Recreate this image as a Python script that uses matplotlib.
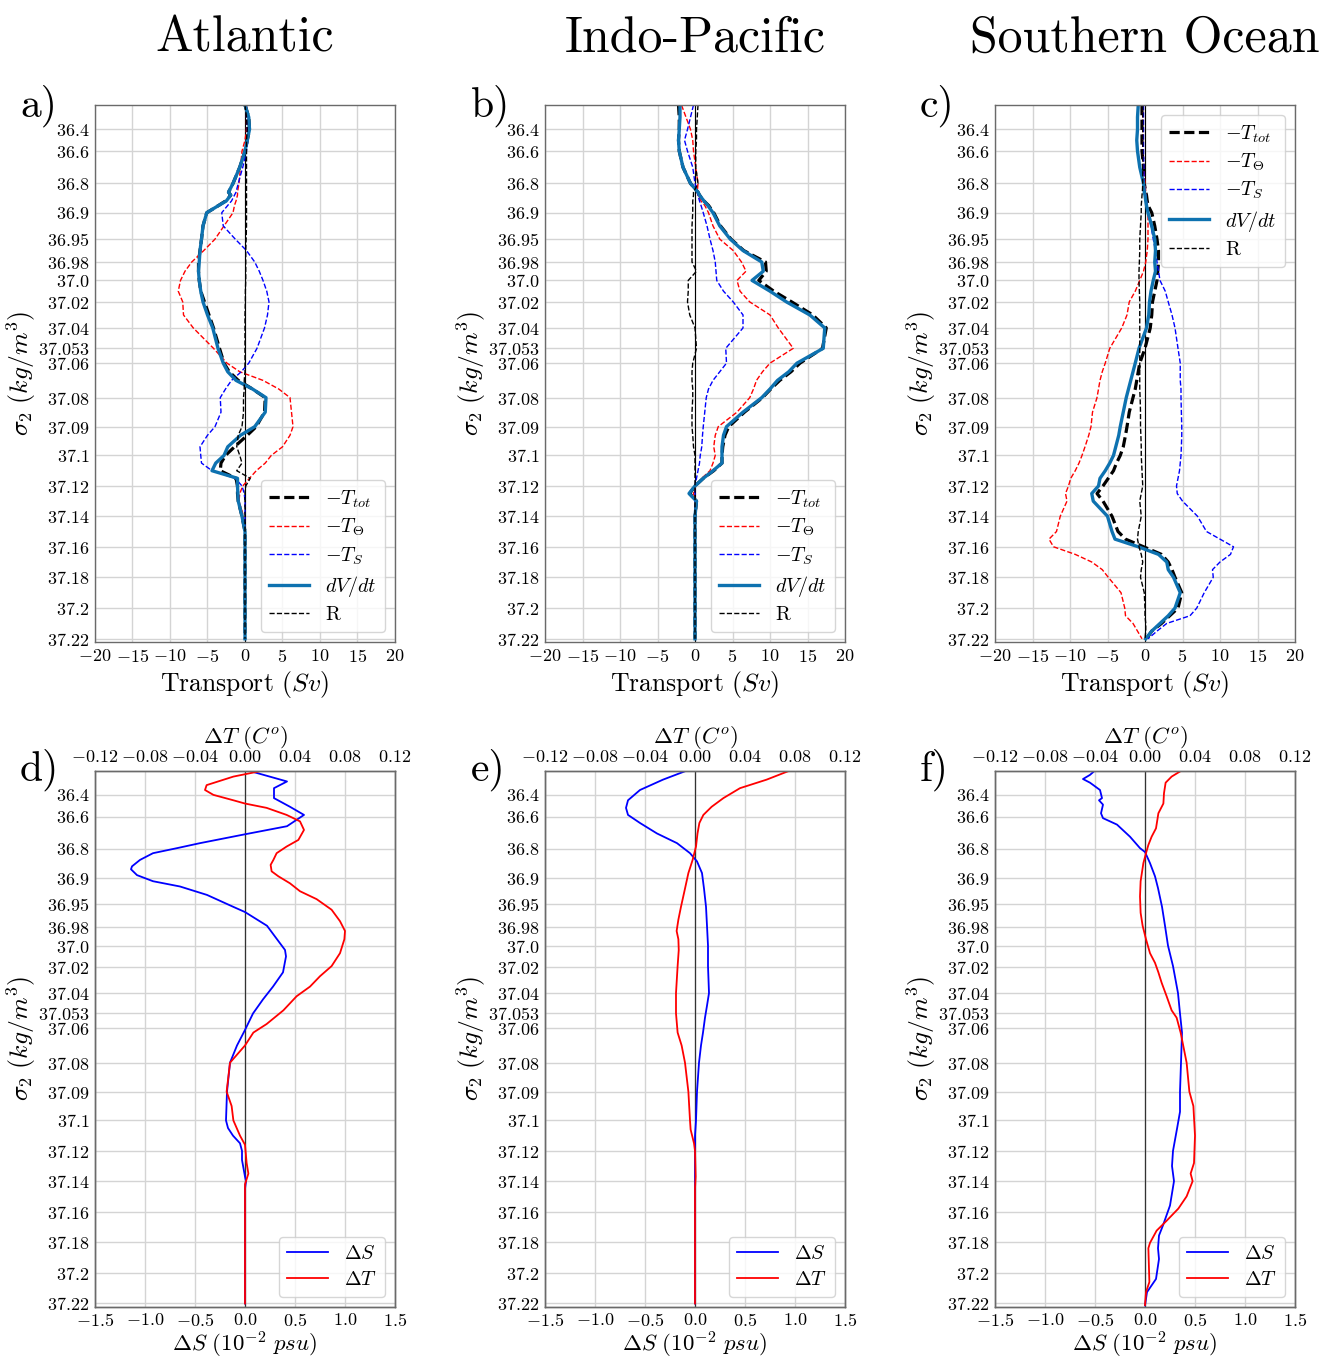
import numpy as np
import matplotlib
matplotlib.use("Agg")
import matplotlib.pyplot as plt
from matplotlib.ticker import FixedLocator, FuncFormatter

plt.rcParams.update({
    "font.family": "serif",
    "font.serif": ["cmr10"],
    "mathtext.fontset": "cm",
    "axes.formatter.use_mathtext": True,
    "axes.unicode_minus": False,
})

# ---------------- data ----------------
TITLES = ["Atlantic", "Indo-Pacific", "Southern Ocean"]
PANEL_TOP = ["a)", "b)", "c)"]
PANEL_BOT = ["d)", "e)", "f)"]

Y_TICK_LABELS = ["36.4", "36.6", "36.8", "36.9", "36.95", "36.98", "37.0", "37.02",
                 "37.04", "37.053", "37.06", "37.08", "37.09", "37.1", "37.12",
                 "37.14", "37.16", "37.18", "37.2", "37.22"]
TRANSPORT_TICKS = [-20, -15, -10, -5, 0, 5, 10, 15, 20]
DS_TICKS = [-1.5, -1.0, -0.5, 0.0, 0.5, 1.0, 1.5]
DT_TICKS = [-0.12, -0.08, -0.04, 0.0, 0.04, 0.08, 0.12]

# common density grid of the transport profiles
SIG = [36.2, 36.3, 36.4, 36.5, 36.6, 36.7, 36.8, 36.83, 36.84, 36.86,
       36.875, 36.9, 36.925, 36.95, 36.965, 36.98, 36.99, 37.0, 37.01, 37.02,
       37.03, 37.04, 37.053, 37.06, 37.065, 37.07, 37.075, 37.08, 37.085, 37.09,
       37.093, 37.097, 37.1, 37.105, 37.11, 37.115, 37.12, 37.125, 37.13, 37.14,
       37.15, 37.155, 37.16, 37.165, 37.17, 37.175, 37.18, 37.19, 37.2, 37.205,
       37.21, 37.215, 37.22]

Z13 = [0.0] * 13

# Atlantic
A_TTOT = [0.0, 0.5, 0.6, 0.3, 0.0, -0.7, -1.6, -2.2, -1.9, -2.6,
          -3.5, -5.1, -5.6, -5.8, -6.0, -6.2, -6.2, -6.1, -5.9, -5.4,
          -4.8, -4.2, -3.4, -2.8, -2.1, -0.9, 1.0, 2.7, 2.6, 1.5,
          0.3, -1.4, -2.6, -3.2, -3.3, -1.2, -1.0, -1.0, -0.9, -0.4] + Z13
A_TTH = [0.2, 0.2, 0.2, 0.0, -0.4, -0.6, -0.8, -1.0, -1.0, -1.2,
         -1.4, -1.6, -2.8, -4.0, -5.5, -7.1, -8.0, -8.6, -8.9, -8.3,
         -8.2, -6.9, -4.2, -2.4, -0.7, 2.4, 4.5, 6.0, 6.2, 6.4,
         6.0, 5.0, 3.5, 2.7, 1.5, 0.6, -0.3, -0.7, -0.8, -0.2] + Z13
A_TS = [0.2, 0.2, 0.3, 0.4, 0.2, -0.3, -0.9, -1.2, -1.4, -1.8,
        -2.3, -3.1, -2.9, -1.3, 0.2, 1.3, 1.9, 2.4, 2.9, 3.2,
        3.0, 2.6, 1.6, 0.5, -0.5, -1.8, -2.6, -3.3, -3.2, -4.0,
        -5.0, -6.0, -5.9, -5.8, -4.4, -1.3, -0.4, -0.1, 0.0, 0.0] + Z13
A_DVDT = [0.0, 0.5, 0.6, 0.3, 0.0, -0.7, -1.6, -2.2, -1.9, -2.5,
          -3.5, -5.1, -5.6, -5.8, -6.0, -6.1, -6.2, -6.1, -5.9, -5.6,
          -5.0, -4.3, -3.6, -2.9, -2.3, -1.2, 1.0, 2.8, 2.7, 1.3,
          -0.6, -2.3, -2.8, -3.9, -4.4, -1.0, -1.0, -0.95, -0.9, -0.4] + Z13
A_R = [0.0, 0.2, 0.3, 0.2, 0.2, 0.2, 0.2, 0.2, 0.2, 0.2,
       0.2, 0.2, 0.2, 0.15, 0.1, 0.1, 0.1, 0.1, 0.05, 0.05,
       0.0, 0.0, 0.0, 0.0, 0.0, -0.1, -0.1, -0.2, -0.2, -0.4,
       -0.9, -1.1, -0.7, -0.4, -1.1, 0.7, 0.1, 0.0, 0.0, 0.0] + Z13

# Indo-Pacific
B_TTOT = [-2.2, -2.1, -2.1, -2.2, -2.1, -1.6, -0.6, 0.4, 0.6, 1.2,
          1.8, 2.5, 3.4, 4.8, 6.5, 9.4, 9.5, 8.5, 10.5, 12.9,
          15.7, 17.5, 17.0, 14.0, 12.8, 11.3, 10.1, 9.0, 6.6, 4.5,
          4.0, 3.7, 3.6, 3.6, 2.5, 1.1, 0.0, -0.7, 0.2, 0.0] + Z13
B_TTH = [-1.8, -1.2, -0.6, -0.3, -0.2, 0.1, 0.4, 0.3, 0.4, 0.8,
         1.3, 1.8, 2.4, 3.3, 5.1, 6.2, 6.8, 5.6, 6.0, 7.3,
         10.0, 11.1, 13.1, 10.0, 9.0, 8.2, 7.8, 7.3, 5.6, 3.1,
         2.7, 2.5, 2.7, 2.4, 2.0, 0.9, 0.1, -0.2, 0.1, 0.0] + Z13
B_TS = [-0.2, -0.6, -1.0, -1.4, -1.0, -0.3, 0.0, 0.3, 0.4, 0.6,
        0.8, 1.1, 1.6, 2.0, 2.4, 2.7, 2.8, 2.9, 3.8, 5.1,
        6.4, 6.4, 4.1, 4.2, 3.3, 2.4, 1.8, 1.5, 1.3, 1.1,
        1.0, 0.9, 0.7, 0.6, 0.4, 0.2, 0.0, 0.0, 0.0, 0.0] + Z13
B_DVDT = [-2.0, -2.0, -2.1, -2.2, -2.1, -1.6, -0.6, 0.4, 0.6, 1.2,
          1.7, 2.4, 3.3, 4.7, 6.4, 8.9, 9.1, 7.6, 10.0, 12.2,
          15.3, 17.3, 17.1, 13.6, 12.5, 11.0, 10.0, 8.9, 6.4, 4.2,
          3.8, 3.6, 3.6, 3.6, 2.4, 1.1, 0.0, -0.8, 0.2, 0.0] + Z13
B_R = [0.4, 0.3, 0.2, 0.2, 0.1, 0.1, 0.4, -0.2, -0.2, -0.3,
       -0.3, -0.3, -0.4, -0.4, -0.4, -0.4, 0.2, -0.9, -0.9, -1.0,
       -0.7, 0.0, 0.2, -0.3, -0.4, -0.4, -0.3, -0.3, -0.4, -0.4,
       -0.3, -0.2, 0.0, 0.0, 0.0, 0.0, 0.0, 0.0, 0.0, 0.0] + Z13

# Southern Ocean
C_TTOT = [-0.4, -0.4, -0.4, -0.4, -0.4, -0.2, -0.1, 0.1, 0.2, 0.3,
          0.4, 0.9, 1.3, 1.6, 1.8, 1.8, 1.7, 1.6, 1.3, 1.0,
          0.9, 0.7, 0.0, -0.7, -0.9, -1.1, -1.3, -1.6, -2.1, -2.4,
          -2.6, -2.9, -3.3, -3.8, -4.2, -4.9, -5.6, -6.4, -5.6, -4.4,
          -3.6, -2.6, -0.2, 2.2, 3.1, 3.6, 4.0, 4.9, 4.4, 3.3,
          2.2, 0.9, 0.2]
C_TTH = [-0.3, -0.3, -0.3, -0.3, -0.3, -0.2, 0.0, 0.1, 0.1, 0.2,
         0.3, 0.4, 0.4, 0.4, 0.3, 0.1, -0.2, -0.7, -1.3, -2.1,
         -2.4, -3.1, -4.7, -5.3, -5.7, -6.0, -6.2, -6.4, -7.0, -7.2,
         -7.5, -8.0, -8.4, -8.8, -9.3, -9.9, -10.2, -10.6, -10.4, -11.3,
         -11.8, -12.8, -12.2, -9.3, -7.1, -5.7, -4.9, -3.2, -2.7, -2.6,
         -1.6, -1.0, -0.4]
C_TS = [-0.2, -0.2, -0.2, -0.2, -0.2, -0.15, -0.1, 0.0, 0.1, 0.2,
        0.3, 0.4, 0.8, 1.1, 1.4, 1.6, 1.8, 2.0, 2.7, 3.1,
        3.6, 4.0, 4.4, 4.7, 4.7, 4.7, 4.8, 4.8, 4.85, 4.9,
        4.9, 4.85, 4.8, 4.7, 4.6, 4.4, 4.2, 4.3, 5.0, 7.0,
        8.2, 10.0, 11.8, 11.4, 10.0, 9.0, 9.1, 7.9, 6.9, 6.0,
        2.9, 1.6, 0.4]
C_DVDT = [-0.9, -1.0, -1.0, -1.1, -1.0, -0.7, -0.2, -0.1, 0.0, 0.1,
          0.2, 0.4, 0.9, 1.3, 1.4, 1.3, 1.4, 1.1, 0.8, 0.6,
          0.5, 0.2, -0.8, -1.3, -1.6, -1.9, -2.2, -2.5, -2.9, -3.3,
          -3.5, -3.9, -4.2, -4.7, -5.3, -6.0, -6.2, -7.1, -6.9, -5.0,
          -4.4, -4.0, -0.9, 1.8, 2.9, 3.1, 3.8, 4.7, 4.0, 3.1,
          2.0, 0.9, 0.1]
C_R = [-0.3, -0.3, -0.3, -0.3, -0.3, -0.3, -0.3, -0.35, -0.4, -0.45,
       -0.5, -0.5, -0.6, -0.7, -0.7, -0.75, -0.8, -0.8, -0.75, -0.7,
       -0.7, -0.7, -0.7, -0.7, -0.7, -0.7, -0.7, -0.65, -0.6, -0.6,
       -0.55, -0.5, -0.5, -0.45, -0.4, -0.35, -0.3, -0.5, -0.7, -0.5,
       -0.9, -1.0, -0.8, -0.5, -0.3, -0.5, -0.6, -0.1, 0.0, 0.0,
       0.1, 0.1, 0.0]

# Salinity / temperature anomaly profiles
D_S_SIG = [36.2, 36.29, 36.345, 36.43, 36.51, 36.585, 36.66, 36.71, 36.765, 36.796,
           36.815, 36.838, 36.86, 36.87, 36.89, 36.906, 36.916, 36.932, 36.953, 36.96,
           36.978, 36.993, 37.004, 37.01, 37.024, 37.035, 37.044, 37.053, 37.061, 37.07,
           37.08, 37.09, 37.1, 37.105, 37.11, 37.115, 37.12, 37.126, 37.137, 37.14,
           37.145, 37.22]
D_S = [0.03, 0.42, 0.29, 0.29, 0.45, 0.59, 0.42, 0.0, -0.45, -0.68,
       -0.92, -1.05, -1.13, -1.14, -1.08, -0.92, -0.65, -0.38, -0.12, 0.0,
       0.22, 0.32, 0.40, 0.41, 0.38, 0.28, 0.18, 0.08, 0.0, -0.08,
       -0.15, -0.18, -0.19, -0.17, -0.12, -0.05, -0.03, -0.03, 0.0, 0.01,
       0.0, 0.0]
D_T_SIG = [36.2, 36.25, 36.32, 36.36, 36.4, 36.45, 36.48, 36.52, 36.585, 36.63,
           36.683, 36.745, 36.786, 36.815, 36.838, 36.855, 36.877, 36.894, 36.91, 36.925,
           36.94, 36.957, 36.972, 36.984, 36.993, 37.007, 37.019, 37.027, 37.035, 37.042,
           37.051, 37.058, 37.0625, 37.07, 37.08, 37.09, 37.095, 37.1, 37.11, 37.116,
           37.128, 37.135, 37.14, 37.142, 37.22]
D_T = [0.0147, -0.0093, -0.0307, -0.032, -0.0253, -0.0093, 0.0, 0.0173, 0.0333, 0.044,
       0.0472, 0.0427, 0.0333, 0.0253, 0.0227, 0.0205, 0.0213, 0.0267, 0.036, 0.044,
       0.0573, 0.0693, 0.076, 0.08, 0.0795, 0.076, 0.0693, 0.06, 0.052, 0.0413,
       0.0307, 0.0173, 0.0067, 0.0, -0.012, -0.0147, -0.0107, -0.0093, -0.004, 0.0,
       0.0013, 0.0027, 0.0008, 0.0, 0.0]

E_S_SIG = [36.2, 36.275, 36.36, 36.45, 36.52, 36.585, 36.64, 36.705, 36.765, 36.815,
           36.843, 36.883, 36.92, 36.953, 36.978, 37.0, 37.019, 37.04, 37.048, 37.055,
           37.0625, 37.07, 37.08, 37.09, 37.1, 37.11, 37.12, 37.15, 37.22]
E_S = [-0.08, -0.32, -0.55, -0.67, -0.69, -0.67, -0.55, -0.38, -0.18, -0.05,
       0.02, 0.07, 0.09, 0.11, 0.12, 0.13, 0.13, 0.14, 0.12, 0.10,
       0.08, 0.06, 0.04, 0.02, 0.01, 0.0, 0.0, 0.0, 0.0]
E_T_SIG = [36.2, 36.275, 36.345, 36.43, 36.51, 36.585, 36.64, 36.705, 36.786, 36.838,
           36.883, 36.92, 36.953, 36.97, 36.984, 36.993, 37.004, 37.019, 37.04, 37.053,
           37.0625, 37.07, 37.08, 37.09, 37.1, 37.106, 37.115, 37.12, 37.137, 37.145,
           37.22]
E_T = [0.076, 0.0573, 0.036, 0.0227, 0.0133, 0.0067, 0.0035, 0.002, 0.0008, -0.0019,
       -0.0053, -0.008, -0.0112, -0.0133, -0.0147, -0.0133, -0.013, -0.0139, -0.0152, -0.0152,
       -0.0139, -0.0107, -0.008, -0.0053, -0.004, -0.0035, -0.0008, 0.0, 0.0005, 0.0,
       0.0]

F_S_SIG = [36.2, 36.236, 36.27, 36.30, 36.36, 36.43, 36.45, 36.49, 36.57, 36.61,
           36.65, 36.725, 36.796, 36.811, 36.849, 36.894, 36.919, 36.953, 36.978, 37.0,
           37.019, 37.04, 37.053, 37.0625, 37.08, 37.09, 37.097, 37.1055, 37.12, 37.13,
           37.14, 37.156, 37.169, 37.1757, 37.184, 37.191, 37.204, 37.2126, 37.2213]
F_S = [-0.50, -0.55, -0.62, -0.55, -0.45, -0.43, -0.46, -0.42, -0.44, -0.42,
       -0.28, -0.15, -0.05, 0.0, 0.05, 0.10, 0.13, 0.17, 0.20, 0.23,
       0.28, 0.33, 0.35, 0.37, 0.36, 0.35, 0.35, 0.32, 0.28, 0.27,
       0.29, 0.25, 0.18, 0.14, 0.13, 0.14, 0.11, 0.02, 0.0]
F_T_SIG = [36.2, 36.25, 36.30, 36.386, 36.48, 36.57, 36.62, 36.673, 36.725, 36.776,
           36.815, 36.849, 36.906, 36.935, 36.961, 36.978, 36.993, 37.007, 37.016, 37.024,
           37.032, 37.042, 37.051, 37.055, 37.0625, 37.08, 37.09, 37.095, 37.11, 37.128,
           37.135, 37.14, 37.15, 37.158, 37.166, 37.1725, 37.1805, 37.184, 37.206, 37.2126,
           37.221]
F_T = [0.0293, 0.0213, 0.0165, 0.0152, 0.0147, 0.0107, 0.0099, 0.0088, 0.0053, 0.0027,
       0.0008, -0.0013, -0.0035, -0.004, -0.0035, -0.0019, 0.0008, 0.004, 0.008, 0.0107,
       0.0133, 0.0173, 0.0213, 0.0253, 0.0285, 0.0333, 0.0355, 0.0387, 0.04, 0.0392,
       0.0365, 0.0381, 0.0333, 0.0267, 0.0173, 0.0093, 0.004, 0.0027, 0.0035, 0.0008,
       0.0]

# ---------------- density axis scale (stretched sigma_2 axis) ----------------
SCALE_SIG = [36.2, 36.4, 36.6, 36.8, 36.9, 36.95, 36.98, 37.0, 37.02, 37.04, 37.053,
             37.06, 37.08, 37.09, 37.1, 37.12, 37.14, 37.16, 37.18, 37.2, 37.22]
SCALE_POS = [0.0, 24.4, 46.1, 78.4, 107.7, 134.1, 157.0, 175.4, 196.9, 222.9, 243.3,
             258.1, 292.6, 321.6, 350.4, 380.9, 411.2, 441.7, 472.2, 503.0, 533.7]
SIG_TOP, SIG_BOTTOM = 36.2, 37.2221


def _interp_ext(x, xp, fp):
    x = np.asarray(x, dtype=float)
    xp = np.asarray(xp, dtype=float)
    fp = np.asarray(fp, dtype=float)
    out = np.interp(x, xp, fp)
    s0 = (fp[1] - fp[0]) / (xp[1] - xp[0])
    s1 = (fp[-1] - fp[-2]) / (xp[-1] - xp[-2])
    out = np.where(x < xp[0], fp[0] + (x - xp[0]) * s0, out)
    out = np.where(x > xp[-1], fp[-1] + (x - xp[-1]) * s1, out)
    return out


def fwd(s):
    return _interp_ext(s, SCALE_SIG, SCALE_POS)


def inv(p):
    return _interp_ext(p, SCALE_POS, SCALE_SIG)


# ---------------- figure ----------------
W, H = 1322, 1359
fig = plt.figure(figsize=(W / 100, H / 100), dpi=100)

DV_COLOR = "#0e72b0"
GRID_C = "#d4d4d4"
SPINE_C = "#6a6a6a"
TICK_FS = 13


def rect(x0, y0, x1, y1):
    return [x0 / W, 1 - y1 / H, (x1 - x0) / W, (y1 - y0) / H]


def style_common(ax):
    ax.set_yscale("function", functions=(fwd, inv))
    ax.set_ylim(SIG_BOTTOM, SIG_TOP)
    ax.set_yticks([float(s) for s in Y_TICK_LABELS],
                  labels=["$%s$" % s for s in Y_TICK_LABELS])
    ax.grid(True, color=GRID_C, lw=1.0)
    ax.set_axisbelow(True)
    ax.tick_params(length=0, labelsize=TICK_FS, pad=4)
    for sp in ax.spines.values():
        sp.set_color(SPINE_C)
        sp.set_linewidth(1.0)
    ax.set_ylabel(r"$\sigma_2\ (kg/m^3)$", fontsize=18.5, labelpad=0)


lefts = [95, 545, 995]
centers = [245, 695, 1145]
label_x = [20, 471, 920]

top_data = [
    (A_TTOT, A_TTH, A_TS, A_DVDT, A_R, "lower right"),
    (B_TTOT, B_TTH, B_TS, B_DVDT, B_R, "lower right"),
    (C_TTOT, C_TTH, C_TS, C_DVDT, C_R, "upper right"),
]
bot_data = [
    (D_S_SIG, D_S, D_T_SIG, D_T),
    (E_S_SIG, E_S, E_T_SIG, E_T),
    (F_S_SIG, F_S, F_T_SIG, F_T),
]

for i in range(3):
    # ---- transport panels ----
    ax = fig.add_axes(rect(lefts[i], 105, lefts[i] + 300, 642))
    style_common(ax)
    ttot, tth, ts, dvdt, rr, loc = top_data[i]
    ax.axvline(0, color="k", lw=0.8, zorder=1.5)
    ax.plot(ttot, SIG, color="k", lw=2.3, ls=(0, (3.2, 1.4)), label=r"$-T_{tot}$")
    ax.plot(tth, SIG, color="red", lw=1.0, ls="--", label=r"$-T_{\Theta}$")
    ax.plot(ts, SIG, color="blue", lw=1.0, ls="--", label=r"$-T_S$")
    ax.plot(dvdt, SIG, color=DV_COLOR, lw=2.4, label=r"$dV/dt$")
    ax.plot(rr, SIG, color="k", lw=1.0, ls="--", label="R")
    ax.set_xlim(-20, 20)
    ax.xaxis.set_major_locator(FixedLocator(TRANSPORT_TICKS))
    ax.xaxis.set_major_formatter(FuncFormatter(lambda v, p: "$%g$" % v))
    ax.set_xlabel("Transport $(Sv)$", fontsize=18.5, labelpad=3)
    ax.legend(loc=loc, fontsize=14.5, labelspacing=0.35)
    fig.text(centers[i] / W, 1 - 52 / H, TITLES[i], ha="center", va="baseline",
             fontsize=36)
    fig.text(label_x[i] / W, 1 - 117 / H, PANEL_TOP[i], ha="left", va="baseline",
             fontsize=30)

    # ---- anomaly panels ----
    axb = fig.add_axes(rect(lefts[i], 770.5, lefts[i] + 300, 1306.7))
    style_common(axb)
    s_sig, s_val, t_sig, t_val = bot_data[i]
    axb.axvline(0, color="#333333", lw=0.9, zorder=1.5)
    lS, = axb.plot(s_val, s_sig, color="blue", lw=1.3)
    axb.set_xlim(-1.5, 1.5)
    axb.xaxis.set_major_locator(FixedLocator(DS_TICKS))
    axb.xaxis.set_major_formatter(FuncFormatter(lambda v, p: "$%.1f$" % v))
    axb.set_xlabel(r"$\Delta S\ (10^{-2}\ psu)$", fontsize=16.5, labelpad=0)

    ax2 = axb.twiny()
    lT, = ax2.plot(t_val, t_sig, color="red", lw=1.3)
    ax2.set_xlim(-0.12, 0.12)
    ax2.set_ylim(SIG_BOTTOM, SIG_TOP)
    ax2.xaxis.set_major_locator(FixedLocator(DT_TICKS))
    ax2.xaxis.set_major_formatter(FuncFormatter(lambda v, p: "$%.2f$" % v))
    ax2.tick_params(length=0, labelsize=TICK_FS, pad=4)
    for sp in ax2.spines.values():
        sp.set_color(SPINE_C)
        sp.set_linewidth(1.0)
    ax2.set_xlabel(r"$\Delta T\ (C^o)$", fontsize=16.5, labelpad=4)
    ax2.legend([lS, lT], [r"$\Delta S$", r"$\Delta T$"], loc="lower right",
               fontsize=14.5, labelspacing=0.35)
    fig.text(label_x[i] / W, 1 - 781 / H, PANEL_BOT[i], ha="left", va="baseline",
             fontsize=30)

fig.savefig("out.png", dpi=100)
